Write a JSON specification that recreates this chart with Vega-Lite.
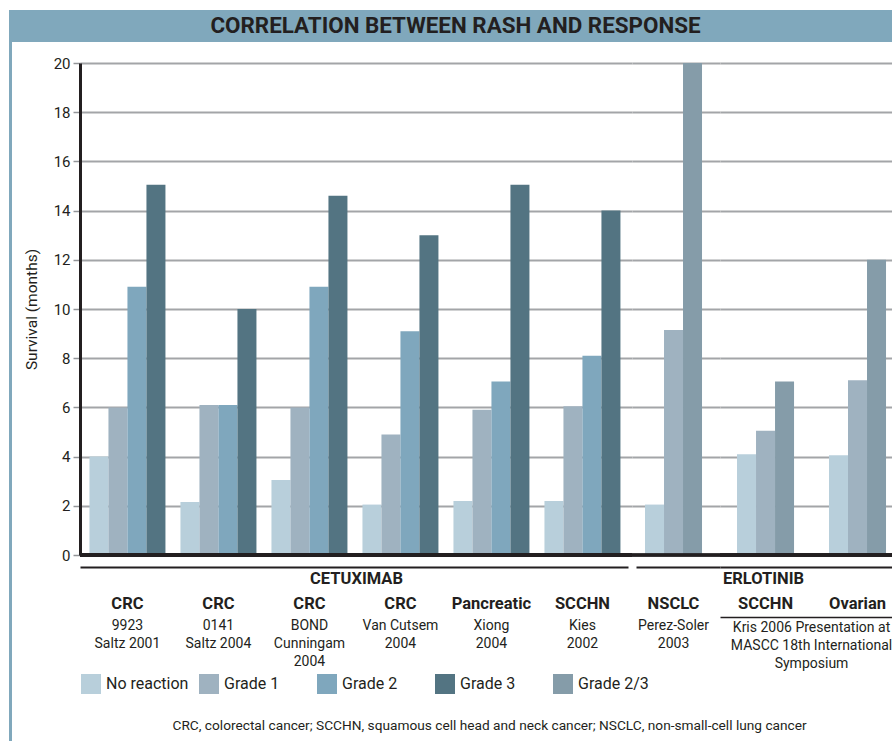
{
  "$schema": "https://vega.github.io/schema/vega-lite/v6.json",
  "padding": {"left": 9, "top": 10, "right": 0, "bottom": 0},
  "background": "white",
  "config": {
    "view": {"stroke": null},
    "font": "Roboto, sans-serif",
    "text": {"font": "Roboto, sans-serif"}
  },
  "datasets": {
    "rash": [
      {"drug": "Cetuximab", "group": "CRC|9923|Saltz 2001", "series": "No reaction", "value": 4.0},
      {"drug": "Cetuximab", "group": "CRC|9923|Saltz 2001", "series": "Grade 1", "value": 6.0},
      {"drug": "Cetuximab", "group": "CRC|9923|Saltz 2001", "series": "Grade 2", "value": 10.9},
      {"drug": "Cetuximab", "group": "CRC|9923|Saltz 2001", "series": "Grade 3", "value": 15.05},
      {"drug": "Cetuximab", "group": "CRC|0141|Saltz 2004", "series": "No reaction", "value": 2.15},
      {"drug": "Cetuximab", "group": "CRC|0141|Saltz 2004", "series": "Grade 1", "value": 6.1},
      {"drug": "Cetuximab", "group": "CRC|0141|Saltz 2004", "series": "Grade 2", "value": 6.1},
      {"drug": "Cetuximab", "group": "CRC|0141|Saltz 2004", "series": "Grade 3", "value": 10.0},
      {"drug": "Cetuximab", "group": "CRC|BOND|Cunningam|2004", "series": "No reaction", "value": 3.05},
      {"drug": "Cetuximab", "group": "CRC|BOND|Cunningam|2004", "series": "Grade 1", "value": 6.0},
      {"drug": "Cetuximab", "group": "CRC|BOND|Cunningam|2004", "series": "Grade 2", "value": 10.9},
      {"drug": "Cetuximab", "group": "CRC|BOND|Cunningam|2004", "series": "Grade 3", "value": 14.6},
      {"drug": "Cetuximab", "group": "CRC|Van Cutsem|2004", "series": "No reaction", "value": 2.05},
      {"drug": "Cetuximab", "group": "CRC|Van Cutsem|2004", "series": "Grade 1", "value": 4.9},
      {"drug": "Cetuximab", "group": "CRC|Van Cutsem|2004", "series": "Grade 2", "value": 9.1},
      {"drug": "Cetuximab", "group": "CRC|Van Cutsem|2004", "series": "Grade 3", "value": 13.0},
      {"drug": "Cetuximab", "group": "Pancreatic|Xiong|2004", "series": "No reaction", "value": 2.2},
      {"drug": "Cetuximab", "group": "Pancreatic|Xiong|2004", "series": "Grade 1", "value": 5.9},
      {"drug": "Cetuximab", "group": "Pancreatic|Xiong|2004", "series": "Grade 2", "value": 7.05},
      {"drug": "Cetuximab", "group": "Pancreatic|Xiong|2004", "series": "Grade 3", "value": 15.05},
      {"drug": "Cetuximab", "group": "SCCHN|Kies|2002", "series": "No reaction", "value": 2.2},
      {"drug": "Cetuximab", "group": "SCCHN|Kies|2002", "series": "Grade 1", "value": 6.05},
      {"drug": "Cetuximab", "group": "SCCHN|Kies|2002", "series": "Grade 2", "value": 8.1},
      {"drug": "Cetuximab", "group": "SCCHN|Kies|2002", "series": "Grade 3", "value": 14.0},
      {"drug": "Erlotinib", "group": "NSCLC|Perez-Soler|2003", "series": "No reaction", "value": 2.05},
      {"drug": "Erlotinib", "group": "NSCLC|Perez-Soler|2003", "series": "Grade 1", "value": 9.15},
      {"drug": "Erlotinib", "group": "NSCLC|Perez-Soler|2003", "series": "Grade 2/3", "value": 20.0},
      {"drug": "Erlotinib", "group": "SCCHN|Kris 2006 Presentation at|MASCC 18th International|Symposium", "series": "No reaction", "value": 4.1},
      {"drug": "Erlotinib", "group": "SCCHN|Kris 2006 Presentation at|MASCC 18th International|Symposium", "series": "Grade 1", "value": 5.05},
      {"drug": "Erlotinib", "group": "SCCHN|Kris 2006 Presentation at|MASCC 18th International|Symposium", "series": "Grade 2/3", "value": 7.05},
      {"drug": "Erlotinib", "group": "Ovarian", "series": "No reaction", "value": 4.05},
      {"drug": "Erlotinib", "group": "Ovarian", "series": "Grade 1", "value": 7.1},
      {"drug": "Erlotinib", "group": "Ovarian", "series": "Grade 2/3", "value": 12.0}
    ]
  },
  "spacing": 0,
  "bounds": "flush",
  "vconcat": [
    {
      "width": 883, "height": 32,
      "view": {"fill": "#80A8BC", "stroke": null},
      "data": {"values": [{"t": "CORRELATION BETWEEN RASH AND RESPONSE"}]},
      "mark": {"type": "text", "fontSize": 22.4, "fontWeight": "bold", "color": "#231F20", "align": "center", "baseline": "middle", "dx": 5},
      "encoding": {"text": {"field": "t"}}
    },
    {"width": 3, "height": 21, "view": {"fill": "#80A8BC", "stroke": null}, "data": {"values": [{}]}, "mark": "text", "encoding": {}},
    {
      "spacing": 68,
      "bounds": "flush",
      "hconcat": [
        {"width": 3, "height": 678, "view": {"fill": "#80A8BC", "stroke": null}, "data": {"values": [{}]}, "mark": "text", "encoding": {}},
        {
          "spacing": 0,
          "bounds": "flush",
          "resolve": {"scale": {"y": "shared", "color": "shared", "x": "independent", "xOffset": "independent"}},
          "title": {"text": "CRC, colorectal cancer; SCCHN, squamous cell head and neck cancer; NSCLC, non-small-cell lung cancer", "orient": "bottom", "anchor": "middle", "fontSize": 13.7, "fontWeight": "normal", "color": "#231F20", "offset": 49, "dx": 26},
          "hconcat": [
            {
              "width": 552, "height": 492,
              "data": {"name": "rash"},
              "transform": [{"filter": "datum.drug == 'Cetuximab'"}],
              "resolve": {"axis": {"x": "independent"}},
              "layer": [
                {
                  "mark": {"type": "bar"},
                  "encoding": {
                    "x": {"field": "group", "type": "nominal", "sort": null,
                      "scale": {"paddingInner": 0.165, "paddingOuter": 0.1155, "align": 0.45},
                      "axis": {"orient": "bottom", "offset": 12, "domain": true, "domainColor": "#231F20", "domainWidth": 2, "domainDash": [548, 1000],
                        "ticks": false, "tickSize": 0, "labelExpr": "split(datum.label, '|')[0]", "labelFontSize": 16.5, "labelFontWeight": "bold", "labelColor": "#231F20",
                        "labelPadding": 28, "labelAngle": 0, "labelOverlap": false, "labelBound": false,
                        "title": "CETUXIMAB", "titleFontSize": 16.5, "titleFontWeight": "bold", "titleColor": "#231F20", "titleY": 11, "titleBaseline": "middle"}},
                    "xOffset": {"field": "series", "type": "nominal", "scale": {"domain": ["No reaction", "Grade 1", "Grade 2", "Grade 3"], "paddingInner": 0, "paddingOuter": 0}},
                    "y": {"field": "value", "type": "quantitative", "scale": {"domain": [0, 20], "nice": false},
                      "axis": {"title": "Survival (months)", "values": [0, 2, 4, 6, 8, 10, 12, 14, 16, 18, 20], "grid": true, "gridColor": "#A3A5A8", "gridWidth": 2,
                        "domainColor": "#231F20", "domainWidth": 3, "tickColor": "#939598", "tickSize": 7, "tickWidth": 1.5,
                        "labelFontSize": 15, "labelPadding": 3, "labelColor": "#231F20", "titleFontSize": 15.5, "titleFontWeight": "normal", "titleColor": "#231F20", "titlePadding": 14}},
                    "color": {"field": "series", "type": "nominal",
                      "scale": {"domain": ["No reaction", "Grade 1", "Grade 2", "Grade 3", "Grade 2/3"], "range": ["#B8CFDB", "#9FB2C0", "#7FA7BD", "#537482", "#859CA9"]},
                      "legend": {"orient": "none", "legendX": 72, "legendY": 664, "direction": "horizontal", "columns": 5, "gridAlign": "all", "title": null, "symbolType": "square", "symbolSize": 400,
                        "symbolStrokeWidth": 0, "symbolOpacity": 1, "labelFontSize": 16, "labelColor": "#231F20", "columnPadding": 10, "labelOffset": 5}}
                  }
                },
                {
                  "mark": {"type": "bar", "opacity": 0},
                  "encoding": {
                    "x": {"field": "group", "type": "nominal", "sort": null,
                      "scale": {"paddingInner": 0.165, "paddingOuter": 0.1155, "align": 0.45},
                      "axis": {"orient": "bottom", "offset": 62, "domain": false, "ticks": false, "tickSize": 0,
                        "labelExpr": "length(split(datum.label, '|')) > 1 ? slice(split(datum.label, '|'), 1) : ''",
                        "labelFontSize": 14, "labelColor": "#231F20", "labelPadding": 1, "labelLineHeight": 18, "labelAngle": 0, "labelOverlap": false, "labelBound": false, "title": null}},
                    "xOffset": {"field": "series", "type": "nominal", "scale": {"domain": ["No reaction", "Grade 1", "Grade 2", "Grade 3"], "paddingInner": 0, "paddingOuter": 0}},
                    "y": {"field": "value", "type": "quantitative", "scale": {"domain": [0, 20], "nice": false}}
                  }
                },
                {"mark": {"type": "rule", "color": "#231F20", "strokeWidth": 3}, "encoding": {"y": {"datum": 0}}}
              ]
            },
            {
              "width": 88, "height": 492,
              "data": {"name": "rash"},
              "transform": [{"filter": "indexof(datum.group, 'NSCLC') == 0"}],
              "resolve": {"axis": {"x": "independent"}},
              "layer": [
                {
                  "mark": {"type": "bar"},
                  "encoding": {
                    "x": {"field": "group", "type": "nominal", "sort": null,
                      "scale": {"paddingInner": 0, "paddingOuter": 0.272, "align": 0.42},
                      "axis": {"orient": "bottom", "offset": 12, "domain": true, "domainColor": "#231F20", "domainWidth": 2, "domainDash": [1000, 4], "domainDashOffset": 1000,
                        "ticks": false, "tickSize": 0, "labelExpr": "split(datum.label, '|')[0]", "labelFontSize": 16.5, "labelFontWeight": "bold", "labelColor": "#231F20",
                        "labelPadding": 28, "labelAngle": 0, "labelOverlap": false, "labelBound": false,
                        "title": "ERLOTINIB", "titleFontSize": 16.5, "titleFontWeight": "bold", "titleColor": "#231F20", "titleY": 11, "titleX": 131, "titleAlign": "center", "titleBaseline": "middle"}},
                    "xOffset": {"field": "series", "type": "nominal", "scale": {"domain": ["No reaction", "Grade 1", "Grade 2/3"], "paddingInner": 0, "paddingOuter": 0}},
                    "y": {"field": "value", "type": "quantitative", "scale": {"domain": [0, 20], "nice": false},
                      "axis": {"title": null, "values": [0, 2, 4, 6, 8, 10, 12, 14, 16, 18, 20], "grid": true, "gridColor": "#A3A5A8", "gridWidth": 2, "domain": false, "ticks": false, "labels": false}},
                    "color": {"field": "series", "type": "nominal"}
                  }
                },
                {
                  "mark": {"type": "bar", "opacity": 0},
                  "encoding": {
                    "x": {"field": "group", "type": "nominal", "sort": null,
                      "scale": {"paddingInner": 0, "paddingOuter": 0.272, "align": 0.42},
                      "axis": {"orient": "bottom", "offset": 62, "domain": false, "ticks": false, "tickSize": 0,
                        "labelExpr": "length(split(datum.label, '|')) > 1 ? slice(split(datum.label, '|'), 1) : ''",
                        "labelFontSize": 14, "labelColor": "#231F20", "labelPadding": 1, "labelLineHeight": 18, "labelAngle": 0, "labelOverlap": false, "labelBound": false, "title": null}},
                    "xOffset": {"field": "series", "type": "nominal", "scale": {"domain": ["No reaction", "Grade 1", "Grade 2/3"], "paddingInner": 0, "paddingOuter": 0}},
                    "y": {"field": "value", "type": "quantitative", "scale": {"domain": [0, 20], "nice": false}}
                  }
                },
                {"mark": {"type": "rule", "color": "#231F20", "strokeWidth": 3}, "encoding": {"y": {"datum": 0}}}
              ]
            },
            {
              "width": 172, "height": 492,
              "data": {"name": "rash"},
              "transform": [{"filter": "datum.drug == 'Erlotinib' && indexof(datum.group, 'NSCLC') != 0"}],
              "resolve": {"axis": {"x": "independent"}},
              "layer": [
                {
                  "mark": {"type": "bar"},
                  "encoding": {
                    "x": {"field": "group", "type": "nominal", "sort": null,
                      "scale": {"paddingInner": 0.38, "paddingOuter": 0.125, "align": 0.74},
                      "axis": {"orient": "bottom", "offset": 12, "domain": true, "domainColor": "#231F20", "domainWidth": 2,
                        "ticks": false, "tickSize": 0, "labelExpr": "split(datum.label, '|')[0]", "labelFontSize": 16.5, "labelFontWeight": "bold", "labelColor": "#231F20",
                        "labelPadding": 28, "labelAngle": 0, "labelOverlap": false, "labelBound": false, "title": null}},
                    "xOffset": {"field": "series", "type": "nominal", "scale": {"domain": ["No reaction", "Grade 1", "Grade 2/3"], "paddingInner": 0, "paddingOuter": 0}},
                    "y": {"field": "value", "type": "quantitative", "scale": {"domain": [0, 20], "nice": false},
                      "axis": {"title": null, "values": [0, 2, 4, 6, 8, 10, 12, 14, 16, 18, 20], "grid": true, "gridColor": "#A3A5A8", "gridWidth": 2, "domain": false, "ticks": false, "labels": false}},
                    "color": {"field": "series", "type": "nominal"}
                  }
                },
                {
                  "mark": {"type": "bar", "opacity": 0},
                  "encoding": {
                    "x": {"field": "group", "type": "nominal", "sort": null,
                      "scale": {"paddingInner": 0.38, "paddingOuter": 0.125, "align": 0.74},
                      "axis": {"orient": "bottom", "offset": 62, "domain": true, "domainColor": "#231F20", "domainWidth": 1.5, "ticks": false, "tickSize": 0,
                        "labelExpr": "length(split(datum.label, '|')) > 1 ? slice(split(datum.label, '|'), 1) : ''", "labelOffset": 46,
                        "labelFontSize": 14, "labelColor": "#231F20", "labelPadding": 3, "labelLineHeight": 18, "labelAngle": 0, "labelOverlap": false, "labelBound": false, "title": null}},
                    "xOffset": {"field": "series", "type": "nominal", "scale": {"domain": ["No reaction", "Grade 1", "Grade 2/3"], "paddingInner": 0, "paddingOuter": 0}},
                    "y": {"field": "value", "type": "quantitative", "scale": {"domain": [0, 20], "nice": false}}
                  }
                },
                {"mark": {"type": "rule", "color": "#231F20", "strokeWidth": 3}, "encoding": {"y": {"datum": 0}}}
              ]
            }
          ]
        }
      ]
    }
  ]
}
